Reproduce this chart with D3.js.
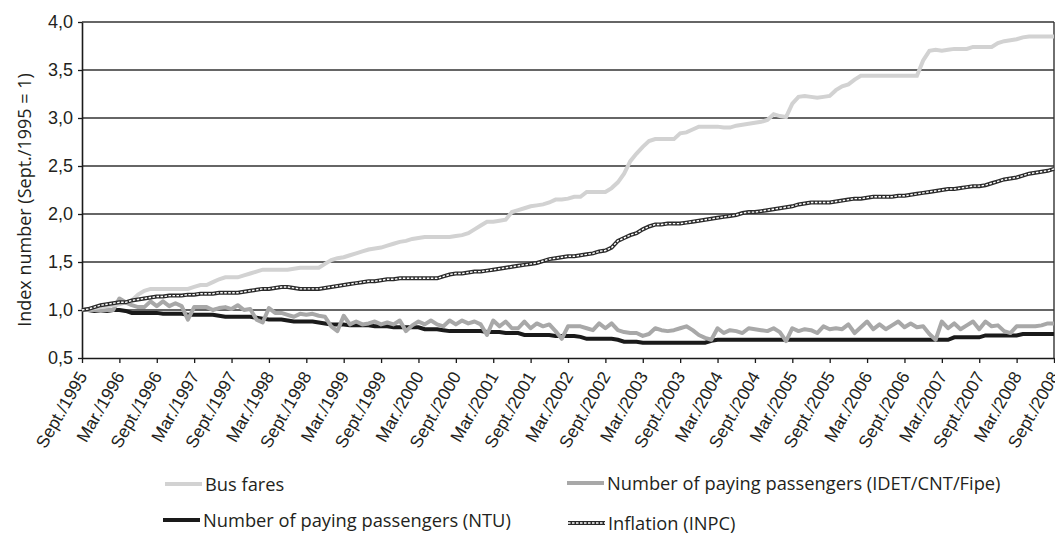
<!DOCTYPE html>
<html>
<head>
<meta charset="utf-8">
<script src="https://cdn.jsdelivr.net/npm/d3@7"></script>
<style>
  body { margin: 0; background: #fff; }
  svg { display: block; font-family: "Open Sans", "Noto Sans", sans-serif; }
  .axis path, .axis line { stroke: #1a1a1a; }
  .axis text { fill: #231f20; }
</style>
</head>
<body>
<div id="chart"></div>
<script>
// monthly series, Sept./1995 .. Sept./2008 (157 months), index Sept./1995 = 1
var busFares = [
  1.00, 1.01, 1.02, 1.03, 1.04, 1.05, 1.06, 1.08, 1.10, 1.16, 1.20, 1.22,
  1.22, 1.22, 1.22, 1.22, 1.22, 1.22, 1.24, 1.26, 1.26, 1.29, 1.32, 1.34,
  1.34, 1.34, 1.36, 1.38, 1.40, 1.42, 1.42, 1.42, 1.42, 1.42, 1.43, 1.44,
  1.44, 1.44, 1.44, 1.48, 1.52, 1.54, 1.55, 1.57, 1.59, 1.61, 1.63, 1.64,
  1.65, 1.67, 1.69, 1.71, 1.72, 1.74, 1.75, 1.76, 1.76, 1.76, 1.76, 1.76,
  1.77, 1.78, 1.80, 1.84, 1.88, 1.92, 1.92, 1.93, 1.94, 2.02, 2.04, 2.06,
  2.08, 2.09, 2.10, 2.12, 2.15, 2.15, 2.16, 2.18, 2.18, 2.23, 2.23, 2.23,
  2.23, 2.27, 2.33, 2.42, 2.55, 2.63, 2.70, 2.76, 2.78, 2.78, 2.78, 2.78,
  2.84, 2.85, 2.88, 2.91, 2.91, 2.91, 2.91, 2.90, 2.90, 2.92, 2.93, 2.94,
  2.95, 2.96, 2.98, 3.04, 3.02, 3.01, 3.15, 3.22, 3.23, 3.22, 3.21, 3.22,
  3.23, 3.29, 3.33, 3.35, 3.40, 3.44, 3.44, 3.44, 3.44, 3.44, 3.44, 3.44,
  3.44, 3.44, 3.44, 3.60, 3.70, 3.71, 3.70, 3.71, 3.72, 3.72, 3.72, 3.74,
  3.74, 3.74, 3.74, 3.78, 3.80, 3.81, 3.82, 3.84, 3.85, 3.85, 3.85, 3.85,
  3.85
];

var passengersIdet = [
  1.00, 1.00, 1.00, 0.99, 1.00, 1.00, 1.12, 1.08, 1.05, 1.03, 1.03, 1.09,
  1.04, 1.09, 1.04, 1.07, 1.04, 0.90, 1.03, 1.03, 1.03, 1.00, 1.02, 1.03,
  1.01, 1.05, 1.00, 1.01, 0.90, 0.87, 1.02, 0.97, 0.97, 0.95, 0.93, 0.96,
  0.95, 0.96, 0.94, 0.93, 0.83, 0.78, 0.94, 0.85, 0.88, 0.85, 0.86, 0.88,
  0.85, 0.87, 0.85, 0.89, 0.78, 0.84, 0.88, 0.85, 0.89, 0.85, 0.83, 0.89,
  0.85, 0.89, 0.86, 0.88, 0.85, 0.74, 0.89, 0.83, 0.88, 0.81, 0.81, 0.88,
  0.81, 0.86, 0.83, 0.85, 0.78, 0.70, 0.83, 0.83, 0.83, 0.81, 0.79, 0.86,
  0.81, 0.86, 0.79, 0.77, 0.76, 0.76, 0.73, 0.75, 0.81, 0.79, 0.78, 0.79,
  0.81, 0.83, 0.79, 0.74, 0.71, 0.69, 0.81, 0.76, 0.79, 0.78, 0.76, 0.81,
  0.80, 0.79, 0.78, 0.81, 0.77, 0.675, 0.81, 0.78, 0.80, 0.79, 0.76, 0.83,
  0.80, 0.81, 0.80, 0.85, 0.76, 0.82, 0.88, 0.80, 0.85, 0.80, 0.84, 0.88,
  0.82, 0.86, 0.82, 0.83, 0.75, 0.69, 0.88, 0.81, 0.86, 0.80, 0.84, 0.88,
  0.80, 0.88, 0.83, 0.84, 0.78, 0.76, 0.83, 0.83, 0.83, 0.83, 0.84, 0.86,
  0.86
];

var passengersNtu = [
  1.00, 1.00, 0.99, 0.99, 0.99, 1.00, 1.00, 0.99, 0.97, 0.97, 0.97, 0.97,
  0.97, 0.96, 0.96, 0.96, 0.96, 0.95, 0.95, 0.95, 0.95, 0.95, 0.94, 0.93,
  0.93, 0.93, 0.93, 0.93, 0.92, 0.91, 0.90, 0.90, 0.90, 0.89, 0.88, 0.88,
  0.88, 0.88, 0.87, 0.86, 0.85, 0.85, 0.85, 0.84, 0.84, 0.84, 0.84, 0.83,
  0.83, 0.83, 0.82, 0.82, 0.82, 0.82, 0.82, 0.80, 0.80, 0.80, 0.79, 0.78,
  0.78, 0.78, 0.78, 0.78, 0.78, 0.77, 0.77, 0.77, 0.76, 0.76, 0.76, 0.74,
  0.74, 0.74, 0.74, 0.74, 0.73, 0.73, 0.73, 0.73, 0.72, 0.70, 0.70, 0.70,
  0.70, 0.70, 0.69, 0.67, 0.67, 0.67, 0.66, 0.66, 0.66, 0.66, 0.66, 0.66,
  0.66, 0.66, 0.66, 0.66, 0.66, 0.68, 0.69, 0.69, 0.69, 0.69, 0.69, 0.69,
  0.69, 0.69, 0.69, 0.69, 0.69, 0.69, 0.69, 0.69, 0.69, 0.69, 0.69, 0.69,
  0.69, 0.69, 0.69, 0.69, 0.69, 0.69, 0.69, 0.69, 0.69, 0.69, 0.69, 0.69,
  0.69, 0.69, 0.69, 0.69, 0.69, 0.69, 0.69, 0.69, 0.715, 0.715, 0.715, 0.715,
  0.715, 0.735, 0.735, 0.735, 0.735, 0.735, 0.735, 0.75, 0.75, 0.75, 0.75, 0.75,
  0.75
];

var inflation = [
  1.00, 1.01, 1.03, 1.05, 1.06, 1.07, 1.08, 1.08, 1.10, 1.11, 1.12, 1.13,
  1.14, 1.14, 1.15, 1.15, 1.15, 1.16, 1.16, 1.17, 1.17, 1.17, 1.18, 1.18,
  1.18, 1.18, 1.19, 1.20, 1.21, 1.22, 1.22, 1.23, 1.24, 1.24, 1.23, 1.22,
  1.22, 1.22, 1.22, 1.23, 1.24, 1.25, 1.26, 1.27, 1.28, 1.29, 1.30, 1.30,
  1.31, 1.32, 1.32, 1.33, 1.33, 1.33, 1.33, 1.33, 1.33, 1.33, 1.35, 1.37,
  1.38, 1.38, 1.39, 1.40, 1.40, 1.41, 1.42, 1.43, 1.44, 1.45, 1.46, 1.47,
  1.48, 1.49, 1.51, 1.53, 1.54, 1.55, 1.56, 1.56, 1.57, 1.58, 1.59, 1.61,
  1.62, 1.65, 1.72, 1.75, 1.78, 1.80, 1.84, 1.87, 1.89, 1.89, 1.90, 1.90,
  1.90, 1.91, 1.92, 1.93, 1.94, 1.95, 1.96, 1.97, 1.98, 1.99, 2.01, 2.02,
  2.02, 2.03, 2.04, 2.05, 2.06, 2.07, 2.08, 2.10, 2.11, 2.12, 2.12, 2.12,
  2.12, 2.13, 2.14, 2.15, 2.16, 2.16, 2.17, 2.18, 2.18, 2.18, 2.18, 2.19,
  2.19, 2.20, 2.21, 2.22, 2.23, 2.24, 2.25, 2.26, 2.26, 2.27, 2.28, 2.29,
  2.29, 2.30, 2.32, 2.34, 2.36, 2.37, 2.38, 2.40, 2.42, 2.43, 2.44, 2.45,
  2.47
];

// one label every 6 months
var xTickLabels = [
  "Sept./1995", "Mar./1996", "Sept./1996", "Mar./1997", "Sept./1997", "Mar./1998",
  "Sept./1998", "Mar./1999", "Sept./1999", "Mar./2000", "Sept./2000", "Mar./2001",
  "Sept./2001", "Mar./2002", "Sept./2002", "Mar./2003", "Sept./2003", "Mar./2004",
  "Sept./2004", "Mar./2005", "Sept./2005", "Mar./2006", "Sept./2006", "Mar./2007",
  "Sept./2007", "Mar./2008", "Sept./2008"
];
var yTicks = [0.5, 1.0, 1.5, 2.0, 2.5, 3.0, 3.5, 4.0];

var seriesNames = [
  "Bus fares",
  "Number of paying passengers (IDET/CNT/Fipe)",
  "Number of paying passengers (NTU)",
  "Inflation (INPC)"
];

var margin = {top: 22, right: 1, bottom: 175, left: 82},
    width = 1055 - margin.left - margin.right,
    height = 533 - margin.top - margin.bottom;

var x = d3.scaleLinear()
    .domain([0, busFares.length - 1])
    .range([0, width]);

var y = d3.scaleLinear()
    .domain([0.5, 4.0])
    .range([height, 0]);

var ptBr = d3.formatLocale({decimal: ",", thousands: ".", grouping: [3], currency: ["", ""]});

var svg = d3.select("#chart").append("svg")
    .attr("width", 1055)
    .attr("height", 533);

var g = svg.append("g")
    .attr("transform", "translate(" + margin.left + "," + margin.top + ")");

// gridlines
g.append("g")
  .selectAll("line")
  .data(yTicks.filter(function(d) { return d > 0.5; }))
  .enter().append("line")
    .attr("x1", 0)
    .attr("x2", width)
    .attr("y1", function(d) { return y(d); })
    .attr("y2", function(d) { return y(d); })
    .attr("stroke", "#333")
    .attr("stroke-width", 1.4);

// right border
g.append("line")
  .attr("x1", width).attr("x2", width)
  .attr("y1", 0).attr("y2", height)
  .attr("stroke", "#333")
  .attr("stroke-width", 1.4);

var xAxis = d3.axisBottom(x)
    .tickValues(d3.range(0, busFares.length, 6))
    .tickFormat(function(d, i) { return xTickLabels[i]; })
    .tickSizeInner(5)
    .tickSizeOuter(0);

var yAxis = d3.axisLeft(y)
    .tickValues(yTicks)
    .tickFormat(ptBr.format(".1f"))
    .tickSizeInner(4)
    .tickSizeOuter(0)
    .tickPadding(5);

var gx = g.append("g")
    .attr("class", "axis")
    .attr("transform", "translate(0," + height + ")")
    .call(xAxis);
gx.select(".domain").attr("stroke-width", 1.6);
gx.selectAll(".tick line").attr("stroke-width", 1.3);
gx.selectAll("text")
    .attr("x", 0)
    .attr("y", 0)
    .attr("dy", "0.35em")
    .attr("transform", "translate(0,15) rotate(-60)")
    .style("text-anchor", "end")
    .style("font-size", "17.5px");

var gy = g.append("g")
    .attr("class", "axis")
    .call(yAxis);
gy.select(".domain").attr("stroke-width", 1.6);
gy.selectAll(".tick line").attr("stroke-width", 1.3);
gy.selectAll("text").style("font-size", "18px");

// axis title
svg.append("text")
    .attr("transform", "translate(31,200) rotate(-90)")
    .style("text-anchor", "middle")
    .style("font-size", "18px")
    .attr("fill", "#231f20")
    .text("Index number (Sept./1995 = 1)");

var line = d3.line()
    .x(function(d, i) { return x(i); })
    .y(function(d) { return y(d); });

g.append("path")
    .datum(passengersNtu)
    .attr("fill", "none")
    .attr("stroke", "#1a1a1a")
    .attr("stroke-width", 4)
    .attr("d", line);

g.append("path")
    .datum(passengersIdet)
    .attr("fill", "none")
    .attr("stroke", "#a8a8a8")
    .attr("stroke-width", 4)
    .attr("stroke-linejoin", "round")
    .attr("d", line);

g.append("path")
    .datum(busFares)
    .attr("fill", "none")
    .attr("stroke", "#d2d2d2")
    .attr("stroke-width", 4)
    .attr("d", line);

g.append("path")
    .datum(inflation)
    .attr("fill", "none")
    .attr("stroke", "#2a2a2a")
    .attr("stroke-width", 4)
    .attr("d", line);
g.append("path")
    .datum(inflation)
    .attr("fill", "none")
    .attr("stroke", "#fff")
    .attr("stroke-width", 1.4)
    .attr("stroke-dasharray", "2.5,1.5")
    .attr("d", line);

// legend
var legendPos = [
  {x: 165, y: 484},
  {x: 567, y: 483},
  {x: 163, y: 520},
  {x: 568, y: 523}
];
var legendColors = ["#d2d2d2", "#a8a8a8", "#1a1a1a", "#2a2a2a"];

var legend = svg.selectAll(".legend")
    .data(seriesNames)
    .enter().append("g")
    .attr("class", "legend")
    .attr("transform", function(d, i) { return "translate(" + legendPos[i].x + "," + legendPos[i].y + ")"; });

legend.append("line")
    .attr("x1", 0).attr("x2", 37)
    .attr("stroke", function(d, i) { return legendColors[i]; })
    .attr("stroke-width", 4);
legend.filter(function(d, i) { return i === 3; })
  .append("line")
    .attr("x1", 0).attr("x2", 37)
    .attr("stroke", "#fff")
    .attr("stroke-width", 1.4)
    .attr("stroke-dasharray", "2.5,1.5");

legend.append("text")
    .attr("x", 40)
    .attr("dy", "0.36em")
    .style("font-size", "18.3px")
    .attr("fill", "#231f20")
    .text(function(d) { return d; });
</script>
</body>
</html>
